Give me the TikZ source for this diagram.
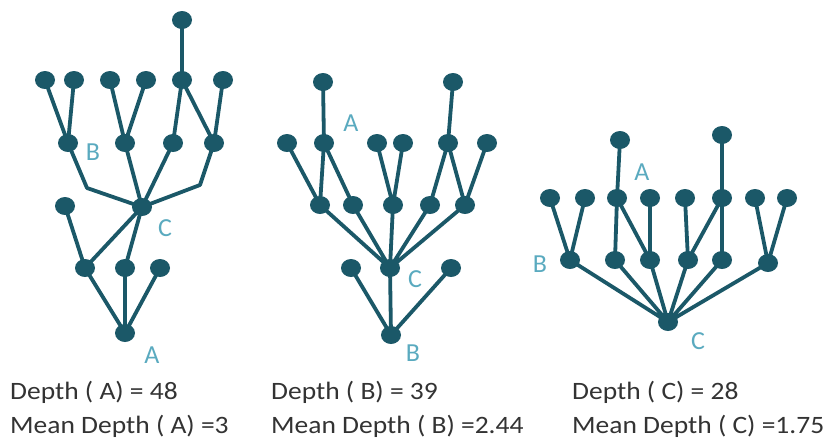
\documentclass[tikz,border=0pt]{standalone}
\usepackage{fontspec}
\setmainfont{Carlito}
\usetikzlibrary{shapes.geometric}
\definecolor{nodec}{HTML}{1B5868}
\definecolor{labc}{HTML}{5AAABF}
\definecolor{txtc}{HTML}{333333}
\newcommand{\widetxt}[1]{\scalebox{1.1}[1]{#1}}
\begin{document}
\begin{tikzpicture}[x=1pt,y=-1pt,
  dot/.style={ellipse,fill=nodec,minimum width=20pt,minimum height=18pt,inner sep=0pt},
  conn/.style={draw=nodec,line width=3.8pt,line join=round},
  lab/.style={text=labc,font=\fontsize{26}{28}\selectfont,inner sep=0pt},
  captxt/.style={text=txtc,font=\fontsize{25}{28}\selectfont,anchor=base west,inner sep=0pt}]
\useasboundingbox (0,0) rectangle (828,439);
% ---------- Tree 1 ----------
\begin{scope}
\coordinate (a1) at (182,20);
\coordinate (a2) at (45,80); \coordinate (a3) at (74,80); \coordinate (a4) at (110,80);
\coordinate (a5) at (146,80); \coordinate (a6) at (182,80); \coordinate (a7) at (223,80);
\coordinate (a8) at (68,143); \coordinate (a9) at (125,143); \coordinate (a10) at (173,143); \coordinate (a11) at (214,143);
\coordinate (a12) at (142,207); \coordinate (a13) at (65,206);
\coordinate (a14) at (85,268); \coordinate (a15) at (125,268); \coordinate (a16) at (160,268);
\coordinate (a17) at (125,333);
\coordinate (abend1) at (87,188); \coordinate (abend2) at (200,185);
\draw[conn] (a1)--(a6) (a2)--(a8) (a3)--(a8) (a4)--(a9) (a5)--(a9)
  (a6)--(a10) (a6)--(a11) (a7)--(a11)
  (a8)--(abend1)--(a12) (a9)--(a12) (a10)--(a12) (a11)--(abend2)--(a12)
  (a12)--(a14) (a12)--(a15) (a13)--(a14)
  (a14)--(a17) (a15)--(a17) (a16)--(a17);
\foreach \n in {1,...,17} \node[dot] (na\n) at (a\n) {};
\node[lab] (la1) at (93,152) {B};
\node[lab] (la2) at (165,228) {C};
\node[lab] (la3) at (152,355) {A};
\end{scope}
% ---------- Tree 2 ----------
\begin{scope}
\coordinate (b1) at (323,82); \coordinate (b2) at (453,82);
\coordinate (b3) at (287,143); \coordinate (b4) at (324,143); \coordinate (b5) at (377,143);
\coordinate (b6) at (403,143); \coordinate (b7) at (448,143); \coordinate (b8) at (487,143);
\coordinate (b9) at (320,205); \coordinate (b10) at (353,205); \coordinate (b11) at (393,205);
\coordinate (b12) at (430,205); \coordinate (b13) at (465,205);
\coordinate (b14) at (390,268); \coordinate (b15) at (351,268); \coordinate (b16) at (451,268);
\coordinate (b17) at (391,335);
\draw[conn] (b1)--(b4) (b2)--(b7) (b3)--(b9) (b4)--(b9) (b4)--(b10)
  (b5)--(b11) (b6)--(b11) (b7)--(b12) (b7)--(b13) (b8)--(b13)
  (b9)--(b14) (b10)--(b14) (b11)--(b14) (b12)--(b14) (b13)--(b14)
  (b15)--(b17) (b14)--(b17) (b16)--(b17);
\foreach \n in {1,...,17} \node[dot] (nb\n) at (b\n) {};
\node[lab] (lb1) at (351,123) {A};
\node[lab] (lb2) at (415,279) {C};
\node[lab] (lb3) at (413,353) {B};
\end{scope}
% ---------- Tree 3 ----------
\begin{scope}
\coordinate (c1) at (620,140); \coordinate (c2) at (722,135);
\coordinate (c3) at (550,198); \coordinate (c4) at (585,198); \coordinate (c5) at (617,198);
\coordinate (c6) at (650,198); \coordinate (c7) at (685,198); \coordinate (c8) at (722,198);
\coordinate (c9) at (755,198); \coordinate (c10) at (787,198);
\coordinate (c11) at (570,260); \coordinate (c12) at (615,260); \coordinate (c13) at (650,260);
\coordinate (c14) at (688,260); \coordinate (c15) at (722,260); \coordinate (c16) at (768,263);
\coordinate (c17) at (668,322);
\draw[conn] (c1)--(c5) (c5)--(c12) (c5)--(c13) (c6)--(c13)
  (c7)--(c14) (c2)--(c8) (c8)--(c14) (c8)--(c15)
  (c3)--(c11) (c4)--(c11) (c9)--(c16) (c10)--(c16)
  (c11)--(c17) (c12)--(c17) (c13)--(c17) (c14)--(c17) (c15)--(c17) (c16)--(c17);
\foreach \n in {1,...,17} \node[dot] (nc\n) at (c\n) {};
\node[lab] (lc1) at (642,172) {A};
\node[lab] (lc2) at (540,264) {B};
\node[lab] (lc3) at (698,341) {C};
\end{scope}
% ---------- captions ----------
\node[captxt] (t1) at (10,399) {\widetxt{Depth ( A) = 48}};
\node[captxt] (t2) at (10,433) {\widetxt{Mean Depth ( A) =3}};
\node[captxt] (t3) at (271,399) {\widetxt{Depth ( B) = 39}};
\node[captxt] (t4) at (271,433) {\widetxt{Mean Depth ( B) =2.44}};
\node[captxt] (t5) at (572,399) {\widetxt{Depth ( C) = 28}};
\node[captxt] (t6) at (572,433) {\widetxt{Mean Depth ( C) =1.75}};
\end{tikzpicture}
\end{document}
